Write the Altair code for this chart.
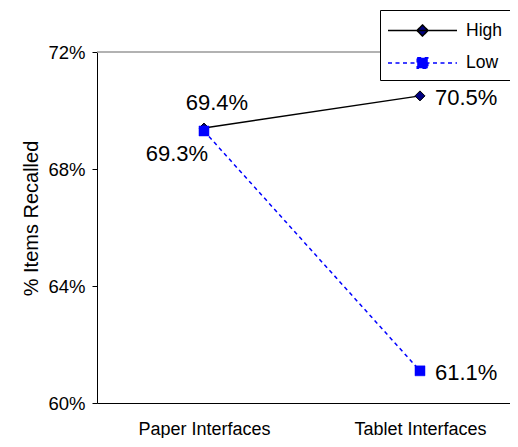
import altair as alt
import pandas as pd

# ---- data ----
interfaces = ["Paper Interfaces", "Tablet Interfaces"]
series_names = ["High", "Low"]
high_values = [69.4, 70.5]
low_values = [69.3, 61.1]
y_ticks = [60, 64, 68, 72]
top_grid = [72]

rows = []
for s, vals in zip(series_names, [high_values, low_values]):
    for itf, v in zip(interfaces, vals):
        rows.append({"series": s, "interface": itf, "value": v})
df = pd.DataFrame(rows)
grid_df = pd.DataFrame({"value": top_grid})

FONT = "Liberation Sans"
NAVY = "#000080"
BLUE = "#0000FF"

x_enc = alt.X(
    "interface:N",
    sort=interfaces,
    scale=alt.Scale(type="point", padding=0.456, align=0.543),
    axis=alt.Axis(
        title=None, labelAngle=0, labelFontSize=18, labelColor="black",
        labelFont=FONT, ticks=False, tickSize=0, labelPadding=17,
        domainColor="black", domainWidth=1, grid=False,
    ),
)
y_enc = alt.Y(
    "value:Q",
    scale=alt.Scale(domain=[60, 72], nice=False, zero=False),
    axis=alt.Axis(
        title="% Items Recalled", values=y_ticks, labelExpr="datum.value + '%'",
        labelFontSize=18.5, labelColor="black", labelFont=FONT, labelPadding=7,
        tickSize=5, tickColor="black", domainColor="black", domainWidth=1,
        grid=False, titleFont=FONT, titleFontSize=20, titleFontWeight="normal",
        titleColor="black", titleX=-60, titleY=166, titleBaseline="alphabetic",
        titleAngle=270,
    ),
)

grid_rule = alt.Chart(grid_df).mark_rule(color="#999999", strokeWidth=1.5).encode(y=y_enc)

high_line = (
    alt.Chart(df).transform_filter("datum.series == 'High'")
    .mark_line(color="black", strokeWidth=1.5)
    .encode(x=x_enc, y=y_enc)
)
low_line = (
    alt.Chart(df).transform_filter("datum.series == 'Low'")
    .mark_line(color=BLUE, strokeWidth=1.5, strokeDash=[4, 3.5])
    .encode(x=x_enc, y=y_enc)
)
high_pts = (
    alt.Chart(df).transform_filter("datum.series == 'High'")
    .mark_point(shape="diamond", filled=True, fill=NAVY, stroke="black",
                strokeWidth=1, size=100, opacity=1)
    .encode(x=x_enc, y=y_enc)
)
low_pts = (
    alt.Chart(df).transform_filter("datum.series == 'Low'")
    .mark_point(shape="square", filled=True, fill=BLUE, stroke=BLUE,
                strokeWidth=0.5, size=100, opacity=1)
    .encode(x=x_enc, y=y_enc)
)

lbl = alt.Chart(df).transform_calculate(label="format(datum.value, '.1f') + '%'")
txt_kw = dict(fontSize=22, font=FONT, color="black", baseline="middle")
lbl_hp = (
    lbl.transform_filter("datum.series == 'High' && datum.interface == 'Paper Interfaces'")
    .mark_text(align="center", dx=13, dy=-25, **txt_kw)
    .encode(x=x_enc, y=y_enc, text="label:N")
)
lbl_lp = (
    lbl.transform_filter("datum.series == 'Low' && datum.interface == 'Paper Interfaces'")
    .mark_text(align="center", dx=-27, dy=23, **txt_kw)
    .encode(x=x_enc, y=y_enc, text="label:N")
)
lbl_t = (
    lbl.transform_filter("datum.interface == 'Tablet Interfaces'")
    .mark_text(align="left", dx=15, dy=2, **txt_kw)
    .encode(x=x_enc, y=y_enc, text="label:N")
)

# legend: symbols are a line segment with the series marker on it
high_path = "M-3,0L3,0M-0.48,0L0,-0.48L0.48,0L0,0.48Z"
low_path = "M-3,0L3,0M-0.46,-0.46L0.46,-0.46L0.46,0.46L-0.46,0.46Z"
leg = alt.Legend(
    title=None, orient="none", legendX=283, legendY=-42,
    symbolSize=529, symbolStrokeWidth=1.5, symbolOffset=22, labelOffset=31,
    labelFontSize=17.5, labelFont=FONT, labelColor="black",
    strokeColor="black", fillColor="white", padding=8, rowPadding=10.5,
)
legend_layer = (
    alt.Chart(df).transform_filter("false")
    .mark_point(filled=True, opacity=1)
    .encode(
        x=x_enc, y=y_enc,
        shape=alt.Shape("series:N", scale=alt.Scale(domain=series_names, range=[high_path, low_path]), legend=leg),
        fill=alt.Fill("series:N", scale=alt.Scale(domain=series_names, range=[NAVY, BLUE]), legend=leg),
        stroke=alt.Stroke("series:N", scale=alt.Scale(domain=series_names, range=["#000000", BLUE]), legend=leg),
        strokeDash=alt.StrokeDash("series:N", scale=alt.Scale(domain=series_names, range=[[1, 0], [4, 3.5]]), legend=leg),
    )
)

chart = (
    alt.layer(grid_rule, high_line, low_line, high_pts, low_pts, lbl_hp, lbl_lp, lbl_t, legend_layer)
    .properties(
        width=413, height=351,
        padding={"left": 89, "top": 44, "right": 0, "bottom": 35},
        autosize=alt.AutoSizeParams(type="none"),
        background="white",
    )
    .configure_view(stroke=None)
)

chart.save("out.html", embed_options={"renderer": "svg", "actions": False})
